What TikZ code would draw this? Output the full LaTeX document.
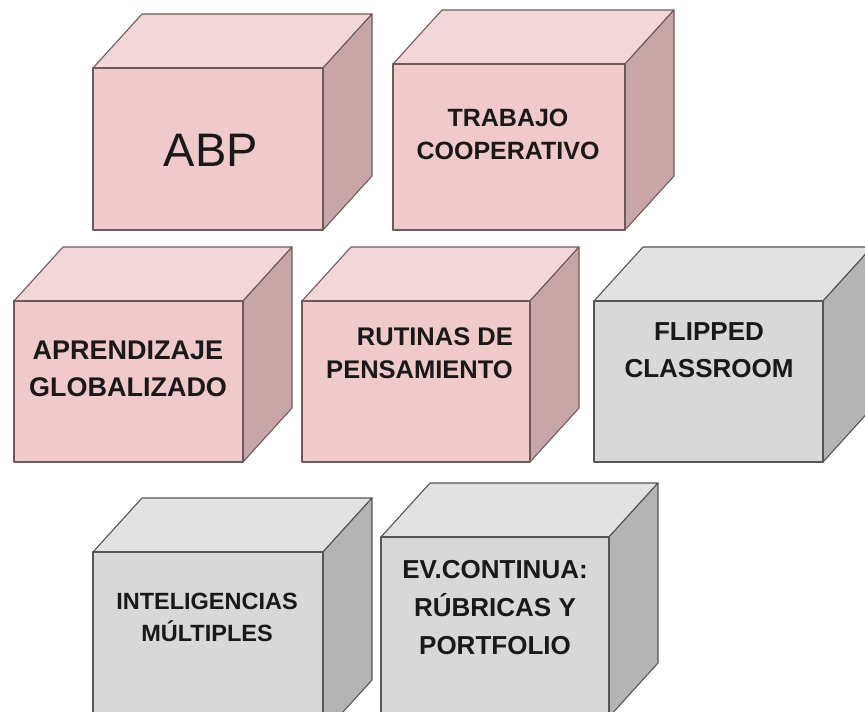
\documentclass[tikz,border=0pt]{standalone}
\usepackage{fontspec}
\setmainfont{Liberation Sans}
\usepackage{xcolor}
\usepackage{tikz}

\definecolor{rosatop}{HTML}{F3D6D7}
\definecolor{rosafront}{HTML}{F0CACB}
\definecolor{rosaside}{HTML}{C8A6A8}
\definecolor{rosaline}{HTML}{6E5A5B}
\definecolor{gristop}{HTML}{E2E2E2}
\definecolor{grisfront}{HTML}{D8D8D8}
\definecolor{grisside}{HTML}{B4B4B4}
\definecolor{grisline}{HTML}{555555}

\tikzset{
    cara/.style={line width=1.1pt, line join=round},
    texto/.style={font=\bfseries\fontsize{26}{35}\selectfont, align=center, inner sep=0pt, text=black!90}
}

% #1 x, #2 y (front top left), #3 width, #4 height, #5 colour
\newcommand*{\cubo}[5]{%
    \filldraw[cara, draw=#5line, fill=#5top] (#1,#2) -- ++(49,-54) -- ++(#3,0) -- ++(-49,54) -- cycle;
    \filldraw[cara, draw=#5line, fill=#5side] (#1+#3,#2) -- ++(49,-54) -- ++(0,#4) -- ++(-49,54) -- cycle;
    \filldraw[cara, draw=#5line, fill=#5front] (#1,#2) rectangle ++(#3,#4);
}

\begin{document}
\begin{tikzpicture}[x=1pt, y=-1pt]

            \useasboundingbox (0,0) rectangle (865,712);
            \clip (0,0) rectangle (865,712);

            \cubo{93}{68}{230}{162}{rosa}
            \cubo{393}{64}{232}{166}{rosa}

            \cubo{14}{301}{229}{161}{rosa}
            \cubo{302}{301}{228}{161}{rosa}
            \cubo{594}{301}{229}{161}{gris}

            \cubo{93}{552}{230}{182}{gris}
            \cubo{381}{537}{228}{180}{gris}

            \node[texto, font=\fontsize{47}{50}\selectfont] (abp) at (211,150) {ABP};
            \node[texto, font=\bfseries\fontsize{25}{33}\selectfont] (trabajo) at (508,134) {TRABAJO\\COOPERATIVO};

            \node[texto, font=\bfseries\fontsize{27}{37}\selectfont] (aprendizaje) at (128,369) {APRENDIZAJE\\GLOBALIZADO};
            \node[texto, align=right, anchor=east, font=\bfseries\fontsize{25.5}{33}\selectfont] (rutinas) at (513,353) {RUTINAS DE\\PENSAMIENTO};
            \node[texto, font=\bfseries\fontsize{26}{37}\selectfont] (flipped) at (709,350) {FLIPPED\\CLASSROOM};

            \node[texto, font=\bfseries\fontsize{23.5}{32}\selectfont] (inteligencias) at (207,617) {INTELIGENCIAS\\MÚLTIPLES};
            \node[texto, font=\bfseries\fontsize{26}{38}\selectfont] (evcontinua) at (495,608) {EV.CONTINUA:\\RÚBRICAS Y\\PORTFOLIO};
        \end{tikzpicture}
\end{document}
